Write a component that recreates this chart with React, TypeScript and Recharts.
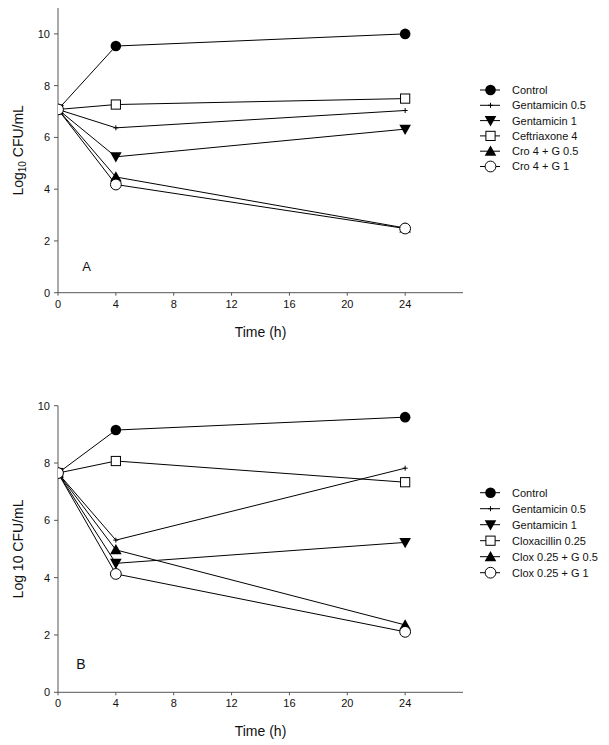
import React from 'react';
import { LineChart, Line, XAxis, YAxis } from 'recharts';

const times = [0, 4, 24];
const xTicks = [0, 4, 8, 12, 16, 20, 24];
const yTicks = [0, 2, 4, 6, 8, 10];

const namesA = ['Control', 'Gentamicin 0.5', 'Gentamicin 1', 'Ceftriaxone 4', 'Cro 4 + G 0.5', 'Cro 4 + G 1'];
const namesB = ['Control', 'Gentamicin 0.5', 'Gentamicin 1', 'Cloxacillin 0.25', 'Clox 0.25 + G 0.5', 'Clox 0.25 + G 1'];
const shapes = ['circle', 'plus', 'triDown', 'square', 'triUp', 'openCircle'];

const controlA = [7.08, 9.53, 10.0];
const gent05A = [7.08, 6.37, 7.04];
const gent1A = [7.08, 5.25, 6.32];
const cefA = [7.08, 7.27, 7.5];
const croG05A = [7.08, 4.47, 2.5];
const croG1A = [7.08, 4.18, 2.48];

const controlB = [7.65, 9.15, 9.6];
const gent05B = [7.65, 5.31, 7.82];
const gent1B = [7.65, 4.5, 5.23];
const cloxB = [7.65, 8.07, 7.33];
const cloxG05B = [7.65, 4.97, 2.35];
const cloxG1B = [7.65, 4.13, 2.11];

const seriesA = [controlA, gent05A, gent1A, cefA, croG05A, croG1A];
const seriesB = [controlB, gent05B, gent1B, cloxB, cloxG05B, cloxG1B];

const FONT = '"Liberation Sans", Arial, sans-serif';

function buildRows(series: number[][]) {
  return times.map((t, i) => {
    const row: Record<string, number> = { t };
    series.forEach((s, k) => {
      row['s' + k] = s[i];
    });
    return row;
  });
}

function Marker({ shape, cx, cy }: { shape: string; cx: number; cy: number }) {
  if (cx == null || cy == null) return null;
  switch (shape) {
    case 'circle':
      return <circle cx={cx} cy={cy} r={5.3} fill="#000" />;
    case 'plus':
      return (
        <path d={`M${cx - 2.5},${cy}h5M${cx},${cy - 2.5}v5`} stroke="#000" strokeWidth={1} fill="none" />
      );
    case 'triDown':
      return <polygon points={`${cx - 5.8},${cy - 4.5} ${cx + 5.8},${cy - 4.5} ${cx},${cy + 5.8}`} fill="#000" />;
    case 'triUp':
      return <polygon points={`${cx - 5.8},${cy + 4.5} ${cx + 5.8},${cy + 4.5} ${cx},${cy - 5.8}`} fill="#000" />;
    case 'square':
      return <rect x={cx - 4.6} y={cy - 4.6} width={9.2} height={9.2} fill="#fff" stroke="#000" strokeWidth={1} />;
    case 'openCircle':
      return <circle cx={cx} cy={cy} r={5.4} fill="#fff" stroke="#000" strokeWidth={1} />;
    default:
      return null;
  }
}

function YTitle(props: any) {
  const vb = props.viewBox || { x: 0, y: 0, width: 58, height: 0 };
  const cx = 18;
  const cy = vb.y + vb.height / 2;
  return (
    <text
      x={cx}
      y={cy}
      transform={`rotate(-90 ${cx} ${cy})`}
      textAnchor="middle"
      dominantBaseline="central"
      fontFamily={FONT}
      fontSize={14}
      fill="#111"
    >
      {props.sub ? (
        <>
          <tspan>Log</tspan>
          <tspan fontSize={10} dy={4}>10</tspan>
          <tspan dy={-4}> CFU/mL</tspan>
        </>
      ) : (
        'Log 10 CFU/mL'
      )}
    </text>
  );
}

function Panel({
  series,
  height,
  top,
  marginTop,
  marginBottom,
  yMax,
  sub,
}: {
  series: number[][];
  height: number;
  top: number;
  marginTop: number;
  marginBottom: number;
  yMax: number;
  sub: boolean;
}) {
  const data = buildRows(series);
  return (
    <div style={{ position: 'absolute', left: 0, top }}>
      <LineChart
        width={609}
        height={height}
        data={data}
        margin={{ top: marginTop, right: 146, bottom: marginBottom, left: 0 }}
      >
        <XAxis
          dataKey="t"
          type="number"
          domain={[0, 28]}
          ticks={xTicks}
          allowDataOverflow
          height={44}
          stroke="#555"
          tickSize={3}
          tickMargin={4}
          tick={{ fontSize: 11, fill: '#111', fontFamily: FONT }}
          label={{ value: 'Time (h)', position: 'insideBottom', offset: 0, fontSize: 14, fill: '#111', fontFamily: FONT }}
        />
        <YAxis
          type="number"
          domain={[0, yMax]}
          ticks={yTicks}
          allowDataOverflow
          width={58}
          stroke="#555"
          tickSize={4}
          tickMargin={4}
          tick={{ fontSize: 11, fill: '#111', fontFamily: FONT }}
          label={<YTitle sub={sub} />}
        />
        {series.map((_, k) => (
          <Line
            key={k}
            dataKey={'s' + k}
            type="linear"
            stroke="#000"
            strokeWidth={1}
            isAnimationActive={false}
            activeDot={false}
            dot={(p: any) => <Marker key={`d${k}-${p.index}`} shape={shapes[k]} cx={p.cx} cy={p.cy} />}
          />
        ))}
      </LineChart>
    </div>
  );
}

function LegendBlock({ names, top0, step }: { names: string[]; top0: number; step: number }) {
  return (
    <g>
      {names.map((n, i) => {
        const y = top0 + i * step;
        return (
          <g key={n}>
            <line x1={480} x2={500} y1={y} y2={y} stroke="#000" strokeWidth={1} />
            <Marker shape={shapes[i]} cx={490.5} cy={y} />
            <text x={512} y={y} dy="0.36em" fontFamily={FONT} fontSize={11} fill="#111">
              {n}
            </text>
          </g>
        );
      })}
    </g>
  );
}

export default function App() {
  return (
    <div style={{ position: 'absolute', left: 0, top: 0, width: 609, height: 745, background: '#fff' }}>
      <Panel series={seriesA} height={340} top={0} marginTop={8} marginBottom={3.3} yMax={11} sub={true} />
      <Panel series={seriesB} height={365} top={380} marginTop={25.7} marginBottom={8.7} yMax={10} sub={false} />
      <svg width={609} height={745} style={{ position: 'absolute', left: 0, top: 0, pointerEvents: 'none' }}>
        <LegendBlock names={namesA} top0={90} step={15.3} />
        <LegendBlock names={namesB} top0={492.7} step={16} />
        <text x={86.5} y={266.5} dy="0.36em" textAnchor="middle" fontFamily={FONT} fontSize={13} fill="#111">
          A
        </text>
        <text x={81} y={664} dy="0.36em" textAnchor="middle" fontFamily={FONT} fontSize={14} fill="#111">
          B
        </text>
      </svg>
    </div>
  );
}
